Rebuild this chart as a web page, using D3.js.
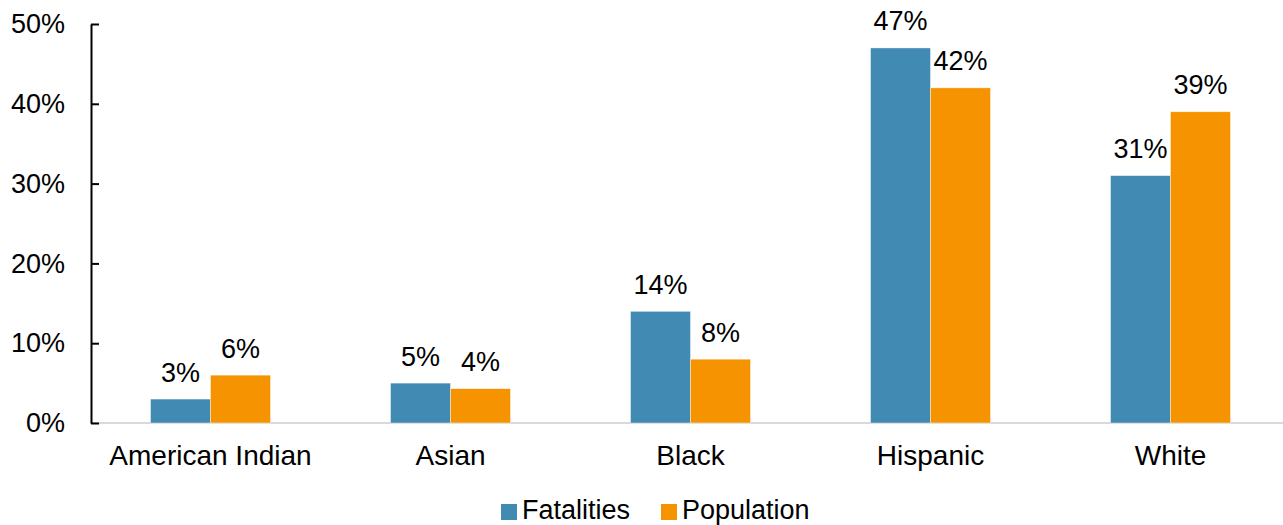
<!DOCTYPE html>
<html>
<head>
<meta charset="utf-8">
<script src="https://cdn.jsdelivr.net/npm/d3@7"></script>
<style>
  html, body { margin: 0; padding: 0; background: #fff; }
  svg { display: block; font-family: "Liberation Sans", Arial, sans-serif; }
</style>
</head>
<body>
<svg id="chart" width="1283" height="525"></svg>
<script>
const categories = ["American Indian", "Asian", "Black", "Hispanic", "White"];
const seriesNames = ["Fatalities", "Population"];
const fatalities = [0.03, 0.05, 0.14, 0.47, 0.31];
const population = [0.06, 0.043, 0.08, 0.42, 0.39];
const fatalityLabels = ["3%", "5%", "14%", "47%", "31%"];
const populationLabels = ["6%", "4%", "8%", "42%", "39%"];
const yTicks = [0, 0.1, 0.2, 0.3, 0.4, 0.5];
const colors = ["#418AB3", "#F59400"];

const svg = d3.select("#chart");
const fontSize = 27;

const x = d3.scaleBand().domain(categories).range([90.5, 1290.5]).paddingInner(0).paddingOuter(0);
const xSub = d3.scaleBand().domain(seriesNames).range([0, x.bandwidth()]).paddingInner(0).paddingOuter(1);
const y = d3.scaleLinear().domain([0, 0.5]).range([423, 24]);

const seriesData = [fatalities, population];
const seriesLabels = [fatalityLabels, populationLabels];

// baseline
svg.append("line")
  .attr("x1", 90).attr("x2", 1283)
  .attr("y1", y(0)).attr("y2", y(0))
  .attr("stroke", "#d9d9d9").attr("stroke-width", 2);

// bars
seriesNames.forEach((s, si) => {
  const g = svg.append("g");
  g.selectAll("rect").data(categories).join("rect")
    .attr("x", d => x(d) + xSub(s))
    .attr("y", (d, i) => y(seriesData[si][i]))
    .attr("width", xSub.bandwidth())
    .attr("height", (d, i) => y(0) - y(seriesData[si][i]))
    .attr("fill", colors[si])
    .attr("stroke", "#ffffff").attr("stroke-width", 0.6).attr("stroke-opacity", 0.7);
  g.selectAll("text").data(categories).join("text")
    .attr("x", d => x(d) + xSub(s) + xSub.bandwidth() / 2)
    .attr("y", (d, i) => y(seriesData[si][i]) - 17.5)
    .attr("text-anchor", "middle")
    .attr("font-size", fontSize)
    .attr("fill", "#000")
    .text((d, i) => seriesLabels[si][i]);
});

// y axis
const yAxis = d3.axisLeft(y).tickValues(yTicks).tickFormat(d3.format(".0%")).tickSizeInner(-8).tickSizeOuter(0).tickPadding(26);
const ya = svg.append("g").attr("transform", "translate(91,0)").call(yAxis);
ya.select(".domain").attr("stroke", "#000").attr("stroke-width", 2);
ya.selectAll(".tick line").attr("stroke", "#000").attr("stroke-width", 2);
ya.selectAll(".tick text").attr("font-size", fontSize).attr("fill", "#000").attr("font-family", "Liberation Sans, Arial, sans-serif");

// x labels
const xAxis = d3.axisBottom(x).tickSize(0).tickPadding(0);
const xa = svg.append("g").call(xAxis);
xa.select(".domain").remove();
xa.selectAll(".tick text")
  .attr("y", 465).attr("dy", null)
  .attr("font-size", 28).attr("fill", "#000")
  .attr("font-family", "Liberation Sans, Arial, sans-serif");

// legend
const legendItems = [
  { name: seriesNames[0], color: colors[0], x: 501 },
  { name: seriesNames[1], color: colors[1], x: 661 }
];
const lg = svg.append("g");
legendItems.forEach(it => {
  lg.append("rect").attr("x", it.x).attr("y", 504).attr("width", 16).attr("height", 16).attr("fill", it.color);
  lg.append("text").attr("x", it.x + 21).attr("y", 519).attr("font-size", fontSize).attr("fill", "#000").text(it.name);
});
</script>
</body>
</html>
